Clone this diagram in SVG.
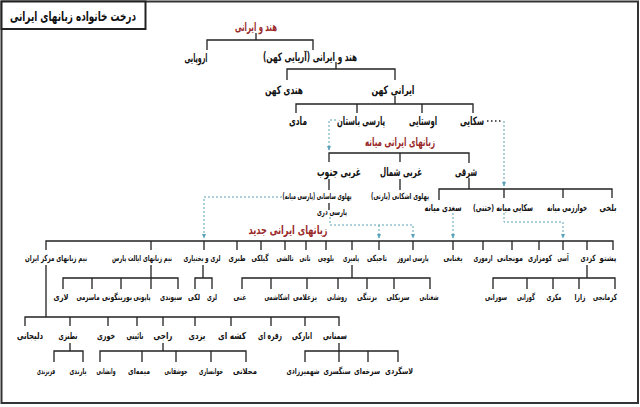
<svg xmlns="http://www.w3.org/2000/svg" width="640" height="407" viewBox="0 0 640 407">
<defs>
<style>
text{font-family:"DejaVu Sans",sans-serif;text-anchor:middle;dominant-baseline:central;direction:rtl;unicode-bidi:embed;fill:#111}
.t1{font-size:11.5px;font-weight:bold}
.t2{font-size:9.5px;font-weight:bold}
.t3{font-size:8.5px;font-weight:bold}
.red{fill:#9a2a2a;font-size:12px;font-weight:bold}
.title{font-size:13.5px;font-weight:bold}
#connectors .ln{stroke:#222;stroke-width:1.3;fill:none}
#connectors .dt{stroke:#5aa3b8;stroke-width:1;stroke-dasharray:2,2;fill:none}
#connectors .bd{stroke:#222;stroke-width:1.6;stroke-dasharray:1.5,2.5;fill:none}
</style>
<marker id="ar" viewBox="0 0 6 6" refX="5" refY="3" markerWidth="5" markerHeight="5" orient="auto">
<path d="M0,0.5 L6,3 L0,5.5 z" fill="#5aa3b8"/>
</marker>
</defs>
<rect x="0" y="0" width="640" height="407" fill="#fff"/>
<rect x="1.5" y="1.5" width="636.5" height="401.5" fill="none" stroke="#333" stroke-width="2"/>
<g id="title">
<rect x="1.5" y="1.5" width="144" height="27.5" fill="#fff" stroke="#222" stroke-width="2"/>
<text class="title" x="73" y="16" textLength="126" lengthAdjust="spacingAndGlyphs">درخت خانواده زبانهای ایرانی</text>
</g>
<g id="connectors">
<path class="ln" d="M256,33V40 M207,50V40H313V50"/>
<path class="ln" d="M336,62V69 M287,80V69H395V80"/>
<path class="ln" d="M395,96V104 M296,113V104H473V113 M357,104V113 M422,104V113"/>
<path class="ln" d="M329,162V153H469V163 M400,153V162"/>
<path class="ln" d="M469,178V189 M439,200V189H612V198 M504,189V198 M563,189V198"/>
<path class="ln" d="M329,179V190 M400,179V190 M329,203V210"/>
<path class="ln" d="M46,250V241H613V250 M151,241V250 M204,241V250 M237,241V250 M261,241V250 M285,241V250 M306,241V250 M326,241V250 M352,241V250 M379,241V250 M413,241V250 M453,241V250 M483,241V250 M512,241V250 M539,241V250 M563,241V250 M587,241V250"/>
<path class="ln" d="M151,265V278 M63,289V278H178V289 M92,278V289 M121,278V289 M151,278V289"/>
<path class="ln" d="M203,265V278 M195,289V278H212V289"/>
<path class="ln" d="M352,265V278 M242,289V278H430V289 M271,278V289 M307,278V289 M338,278V289 M367,278V289 M394,278V289"/>
<path class="ln" d="M587,265V278 M493,289V278H615V289 M527,278V289 M553,278V289 M579,278V289"/>
<path class="ln" d="M46,265V317 M25,326V317H339V326 M70,317V326 M108,317V326 M137,317V326 M163,317V326 M195,317V326 M231,317V326 M271,317V326 M305,317V326"/>
<path class="ln" d="M70,343V351 M54,362V351H83V362"/>
<path class="ln" d="M163,343V351 M100,362V351H246V362 M142,351V362 M176,351V362 M211,351V362"/>
<path class="ln" d="M339,343V362 M305,362V351H398V362 M368,351V362"/>
<path class="bd" d="M487,121H503"/>
<path class="dt" d="M336,120H329V150" marker-end="url(#ar)"/>
<path class="dt" d="M504,121V186" marker-end="url(#ar)"/>
<path class="dt" d="M282,197H204V238" marker-end="url(#ar)"/>
<path class="dt" d="M330,217V225H413V238" marker-end="url(#ar)"/>
<path class="dt" d="M379,225V238" marker-end="url(#ar)"/>
<path class="dt" d="M453,213V238" marker-end="url(#ar)"/>
<path class="dt" d="M504,213V222H563V238" marker-end="url(#ar)"/>
</g>
<g id="n-indoiranian"><text class="red" x="256" y="27" textLength="42" lengthAdjust="spacingAndGlyphs">هند و ایرانی</text></g>
<g id="n-european"><text class="t1" x="196" y="58" textLength="23" lengthAdjust="spacingAndGlyphs">اروپایی</text></g>
<g id="n-aryan"><text class="t1" x="310" y="57" textLength="94" lengthAdjust="spacingAndGlyphs">هند و ایرانی (آریایی کهن)</text></g>
<g id="n-oldindic"><text class="t1" x="284" y="90" textLength="38" lengthAdjust="spacingAndGlyphs">هندی کهن</text></g>
<g id="n-oldiranian"><text class="t1" x="393" y="90" textLength="43" lengthAdjust="spacingAndGlyphs">ایرانی کهن</text></g>
<g id="n-median"><text class="t1" x="298" y="121" textLength="18" lengthAdjust="spacingAndGlyphs">مادی</text></g>
<g id="n-oldpersian"><text class="t1" x="361" y="121" textLength="48" lengthAdjust="spacingAndGlyphs">پارسی باستان</text></g>
<g id="n-avestan"><text class="t1" x="423" y="121" textLength="28" lengthAdjust="spacingAndGlyphs">اوستایی</text></g>
<g id="n-scythian"><text class="t1" x="472" y="121" textLength="24" lengthAdjust="spacingAndGlyphs">سکایی</text></g>
<g id="n-middle"><text class="red" x="400" y="142" textLength="70" lengthAdjust="spacingAndGlyphs">زبانهای ایرانی میانه</text></g>
<g id="n-sw"><text class="t1" x="339" y="172" textLength="44" lengthAdjust="spacingAndGlyphs">غربی جنوب</text></g>
<g id="n-nw"><text class="t1" x="401" y="172" textLength="42" lengthAdjust="spacingAndGlyphs">غربی شمال</text></g>
<g id="n-east"><text class="t1" x="466" y="172" textLength="22" lengthAdjust="spacingAndGlyphs">شرقی</text></g>
<g id="n-pahlavi"><text class="t3" x="317" y="196" textLength="69" lengthAdjust="spacingAndGlyphs">پهلوی ساسانی (پارسی میانه)</text></g>
<g id="n-dari"><text class="t3" x="332" y="212" textLength="30" lengthAdjust="spacingAndGlyphs">پارسی دری</text></g>
<g id="n-parthian"><text class="t3" x="400" y="196" textLength="58" lengthAdjust="spacingAndGlyphs">پهلوی اشکانی (پارتی)</text></g>
<g id="n-sogdian"><text class="t2" x="443" y="207" textLength="37" lengthAdjust="spacingAndGlyphs">سغدی میانه</text></g>
<g id="n-khotanese"><text class="t2" x="503" y="207" textLength="60" lengthAdjust="spacingAndGlyphs">سکایی میانه (ختنی)</text></g>
<g id="n-khwarazmian"><text class="t2" x="567" y="207" textLength="40" lengthAdjust="spacingAndGlyphs">خوارزمی میانه</text></g>
<g id="n-bactrian"><text class="t2" x="608" y="207" textLength="17" lengthAdjust="spacingAndGlyphs">بلخی</text></g>
<g id="n-new"><text class="red" x="288" y="230" textLength="79" lengthAdjust="spacingAndGlyphs">زبانهای ایرانی جدید</text></g>
<g id="n-central"><text class="t3" x="56" y="258" textLength="62" lengthAdjust="spacingAndGlyphs">نیم زبانهای مرکز ایران</text></g>
<g id="n-pars"><text class="t3" x="142" y="258" textLength="60" lengthAdjust="spacingAndGlyphs">نیم زبانهای ایالت پارس</text></g>
<g id="n-lori"><text class="t3" x="202" y="258" textLength="37" lengthAdjust="spacingAndGlyphs">لری و بختیاری</text></g>
<g id="n-tabari"><text class="t3" x="237" y="258" textLength="17" lengthAdjust="spacingAndGlyphs">طبری</text></g>
<g id="n-gilaki"><text class="t3" x="260" y="258" textLength="17" lengthAdjust="spacingAndGlyphs">گیلکی</text></g>
<g id="n-talyshi"><text class="t3" x="285" y="258" textLength="17" lengthAdjust="spacingAndGlyphs">تالشی</text></g>
<g id="n-tati"><text class="t3" x="305" y="258" textLength="11" lengthAdjust="spacingAndGlyphs">تاتی</text></g>
<g id="n-baluchi"><text class="t3" x="326" y="258" textLength="16" lengthAdjust="spacingAndGlyphs">بلوچی</text></g>
<g id="n-pamiri"><text class="t3" x="351" y="258" textLength="16" lengthAdjust="spacingAndGlyphs">پامیری</text></g>
<g id="n-tajik"><text class="t3" x="377" y="258" textLength="20" lengthAdjust="spacingAndGlyphs">تاجیکی</text></g>
<g id="n-persian"><text class="t3" x="413" y="258" textLength="31" lengthAdjust="spacingAndGlyphs">پارسی امروز</text></g>
<g id="n-yaghnobi"><text class="t3" x="453" y="258" textLength="19" lengthAdjust="spacingAndGlyphs">یغنابی</text></g>
<g id="n-ormuri"><text class="t3" x="483" y="258" textLength="19" lengthAdjust="spacingAndGlyphs">ارموری</text></g>
<g id="n-munji"><text class="t3" x="510" y="258" textLength="26" lengthAdjust="spacingAndGlyphs">مونجانی</text></g>
<g id="n-kumzari"><text class="t3" x="540" y="258" textLength="24" lengthAdjust="spacingAndGlyphs">کومزاری</text></g>
<g id="n-ossetic"><text class="t3" x="563" y="258" textLength="11" lengthAdjust="spacingAndGlyphs">آسی</text></g>
<g id="n-kurdish"><text class="t3" x="588" y="258" textLength="15" lengthAdjust="spacingAndGlyphs">کردی</text></g>
<g id="n-pashto"><text class="t3" x="608" y="258" textLength="17" lengthAdjust="spacingAndGlyphs">پشتو</text></g>
<g id="n-lari"><text class="t3" x="61" y="297" textLength="15" lengthAdjust="spacingAndGlyphs">لاری</text></g>
<g id="n-masarmi"><text class="t3" x="88" y="297" textLength="23" lengthAdjust="spacingAndGlyphs">ماسرمی</text></g>
<g id="n-buringuni"><text class="t3" x="117" y="297" textLength="30" lengthAdjust="spacingAndGlyphs">بورینگونی</text></g>
<g id="n-papuni"><text class="t3" x="142" y="297" textLength="17" lengthAdjust="spacingAndGlyphs">پاپونی</text></g>
<g id="n-sivandi"><text class="t3" x="171" y="297" textLength="22" lengthAdjust="spacingAndGlyphs">سیوندی</text></g>
<g id="n-laki"><text class="t3" x="194" y="297" textLength="12" lengthAdjust="spacingAndGlyphs">لکی</text></g>
<g id="n-lori2"><text class="t3" x="212" y="297" textLength="10" lengthAdjust="spacingAndGlyphs">لری</text></g>
<g id="n-ghani"><text class="t3" x="240" y="297" textLength="13" lengthAdjust="spacingAndGlyphs">غنی</text></g>
<g id="n-ishkashimi"><text class="t3" x="277" y="297" textLength="25" lengthAdjust="spacingAndGlyphs">اشکاشمی</text></g>
<g id="n-yazghulami"><text class="t3" x="305" y="297" textLength="24" lengthAdjust="spacingAndGlyphs">یزغلامی</text></g>
<g id="n-rushani"><text class="t3" x="337" y="297" textLength="20" lengthAdjust="spacingAndGlyphs">روشانی</text></g>
<g id="n-bartangi"><text class="t3" x="367" y="297" textLength="20" lengthAdjust="spacingAndGlyphs">برتنگی</text></g>
<g id="n-sarikoli"><text class="t3" x="398" y="297" textLength="23" lengthAdjust="spacingAndGlyphs">سریکلی</text></g>
<g id="n-shughni"><text class="t3" x="429" y="297" textLength="19" lengthAdjust="spacingAndGlyphs">شغنانی</text></g>
<g id="n-sorani"><text class="t3" x="496" y="297" textLength="22" lengthAdjust="spacingAndGlyphs">سورانی</text></g>
<g id="n-gurani"><text class="t3" x="526" y="297" textLength="18" lengthAdjust="spacingAndGlyphs">گورانی</text></g>
<g id="n-mukri"><text class="t3" x="554" y="297" textLength="15" lengthAdjust="spacingAndGlyphs">مکری</text></g>
<g id="n-zaza"><text class="t3" x="580" y="297" textLength="11" lengthAdjust="spacingAndGlyphs">زازا</text></g>
<g id="n-kurmanji"><text class="t3" x="605" y="297" textLength="24" lengthAdjust="spacingAndGlyphs">کرمانجی</text></g>
<g id="n-delijani"><text class="t2" x="30" y="335" textLength="26" lengthAdjust="spacingAndGlyphs">دلیجانی</text></g>
<g id="n-natanzi"><text class="t2" x="68" y="335" textLength="19" lengthAdjust="spacingAndGlyphs">نطنزی</text></g>
<g id="n-khuri"><text class="t2" x="106" y="335" textLength="18" lengthAdjust="spacingAndGlyphs">خوری</text></g>
<g id="n-naini"><text class="t2" x="135" y="335" textLength="17" lengthAdjust="spacingAndGlyphs">نائینی</text></g>
<g id="n-raji"><text class="t2" x="163" y="335" textLength="19" lengthAdjust="spacingAndGlyphs">راجی</text></g>
<g id="n-yazdi"><text class="t2" x="197" y="335" textLength="17" lengthAdjust="spacingAndGlyphs">یزدی</text></g>
<g id="n-kesheh"><text class="t2" x="232" y="335" textLength="28" lengthAdjust="spacingAndGlyphs">کشه ای</text></g>
<g id="n-zefreh"><text class="t2" x="270" y="335" textLength="24" lengthAdjust="spacingAndGlyphs">زفره ای</text></g>
<g id="n-anaraki"><text class="t2" x="302" y="335" textLength="20" lengthAdjust="spacingAndGlyphs">انارکی</text></g>
<g id="n-semnani"><text class="t2" x="335" y="335" textLength="24" lengthAdjust="spacingAndGlyphs">سمنانی</text></g>
<g id="n-farizandi"><text class="t3" x="46" y="371" textLength="18" lengthAdjust="spacingAndGlyphs">فریزندی</text></g>
<g id="n-yarandi"><text class="t3" x="78" y="371" textLength="17" lengthAdjust="spacingAndGlyphs">یارندی</text></g>
<g id="n-vanishani"><text class="t3" x="106" y="371" textLength="19" lengthAdjust="spacingAndGlyphs">وانشانی</text></g>
<g id="n-meymei"><text class="t3" x="139" y="371" textLength="22" lengthAdjust="spacingAndGlyphs">میمه‌ای</text></g>
<g id="n-jowshaqani"><text class="t3" x="176" y="371" textLength="23" lengthAdjust="spacingAndGlyphs">جوشقانی</text></g>
<g id="n-khansari"><text class="t3" x="211" y="371" textLength="24" lengthAdjust="spacingAndGlyphs">خوانساری</text></g>
<g id="n-mahallati"><text class="t3" x="245" y="371" textLength="24" lengthAdjust="spacingAndGlyphs">محلاتی</text></g>
<g id="n-shahmirzadi"><text class="t3" x="303" y="371" textLength="33" lengthAdjust="spacingAndGlyphs">شهمیرزادی</text></g>
<g id="n-sangesari"><text class="t3" x="337" y="371" textLength="27" lengthAdjust="spacingAndGlyphs">سنگسری</text></g>
<g id="n-sorkhei"><text class="t3" x="367" y="371" textLength="26" lengthAdjust="spacingAndGlyphs">سرخه‌ای</text></g>
<g id="n-lasgerdi"><text class="t3" x="399" y="371" textLength="28" lengthAdjust="spacingAndGlyphs">لاسگردی</text></g>
</svg>
